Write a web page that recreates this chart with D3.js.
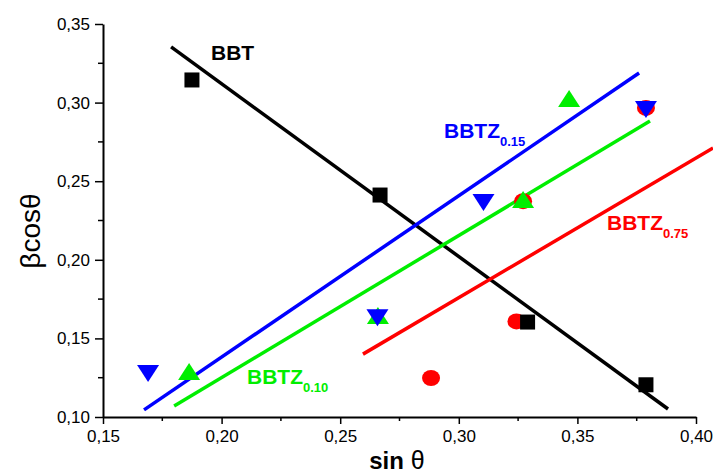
<!DOCTYPE html>
<html>
<head>
<meta charset="utf-8">
<script src="https://cdn.jsdelivr.net/npm/d3@7"></script>
<style>
body { margin: 0; background: #fff; }
text { font-family: "Liberation Sans", Arial, sans-serif; }
</style>
</head>
<body>
<div id="chart"></div>
<script>
// measured points (sin theta, beta cos theta)
var bbtX = [0.1875, 0.2668, 0.3290, 0.3789];
var bbtY = [0.3144, 0.2412, 0.1604, 0.1205];
var z15X = [0.1690, 0.2657, 0.3104, 0.3789];
var z15Y = [0.1280, 0.1635, 0.2368, 0.2960];
var z10X = [0.1863, 0.2659, 0.3271, 0.3465];
var z10Y = [0.1286, 0.1643, 0.2380, 0.3023];
var z75X = [0.2883, 0.3243, 0.3271, 0.3789];
var z75Y = [0.1248, 0.1608, 0.2373, 0.2966];

// fitted lines, start and end
var bbtFitX = [0.1787, 0.3882], bbtFitY = [0.3354, 0.1051];
var z15FitX = [0.1673, 0.3760], z15FitY = [0.1045, 0.3188];
var z10FitX = [0.1800, 0.3806], z10FitY = [0.1070, 0.2883];
var z75FitX = [0.2596, 0.4072], z75FitY = [0.1400, 0.2711];

var xTicks = [0.15, 0.20, 0.25, 0.30, 0.35, 0.40];
var yTicks = [0.10, 0.15, 0.20, 0.25, 0.30, 0.35];
var xMinor = [0.175, 0.225, 0.275, 0.325, 0.375];
var yMinor = [0.125, 0.175, 0.225, 0.275, 0.325];

var W = 713, H = 475;
var svg = d3.select("#chart").append("svg")
    .attr("width", W).attr("height", H);

var x = d3.scaleLinear().domain([0.15, 0.40]).range([103, 696]);
var y = d3.scaleLinear().domain([0.10, 0.35]).range([417, 24]);

var fmt = function(d){ return d3.format(".2f")(d).replace(".", ","); };

// axes
var xAxis = svg.append("g").attr("transform", "translate(0," + y(0.10) + ")")
    .call(d3.axisBottom(x).tickValues(xTicks).tickFormat(fmt).tickSize(7).tickPadding(6).tickSizeOuter(0));
xAxis.append("g").selectAll("line").data(xMinor).join("line")
    .attr("x1", d => x(d)).attr("x2", d => x(d)).attr("y1", 0).attr("y2", 4)
    .attr("stroke", "#000").attr("stroke-width", 1.5);

var yAxis = svg.append("g").attr("transform", "translate(" + x(0.15) + ",0)")
    .call(d3.axisLeft(y).tickValues(yTicks).tickFormat(fmt).tickSize(8).tickPadding(5).tickSizeOuter(0));
yAxis.append("g").selectAll("line").data(yMinor).join("line")
    .attr("y1", d => y(d)).attr("y2", d => y(d)).attr("x1", 0).attr("x2", -5)
    .attr("stroke", "#000").attr("stroke-width", 1.5);

svg.selectAll(".domain").attr("stroke", "#000").attr("stroke-width", 2);
svg.selectAll(".tick line").attr("stroke", "#000").attr("stroke-width", 1.5);
svg.selectAll(".tick text").attr("font-size", 17).attr("fill", "#000")
    .attr("font-family", "Liberation Sans, Arial, sans-serif");

// fit lines
var line = d3.line().x(d => x(d[0])).y(d => y(d[1]));
function fit(xs, ys, col){
    svg.append("path").datum(d3.zip(xs, ys))
        .attr("d", line).attr("fill", "none")
        .attr("stroke", col).attr("stroke-width", 3.5);
}
fit(bbtFitX, bbtFitY, "#000");
fit(z15FitX, z15FitY, "#0000ff");
fit(z10FitX, z10FitY, "#00ee00");
fit(z75FitX, z75FitY, "#ff0000");

// markers
function squares(xs, ys, col){
    svg.append("g").selectAll("rect").data(d3.zip(xs, ys)).join("rect")
        .attr("x", d => x(d[0]) - 7.5).attr("y", d => y(d[1]) - 7.5)
        .attr("width", 15).attr("height", 15).attr("fill", col);
}
function circles(xs, ys, col){
    svg.append("g").selectAll("ellipse").data(d3.zip(xs, ys)).join("ellipse")
        .attr("cx", d => x(d[0])).attr("cy", d => y(d[1]))
        .attr("rx", 9).attr("ry", 8).attr("fill", col);
}
function triangles(xs, ys, col, down){
    var s = down ? -1 : 1;
    svg.append("g").selectAll("path").data(d3.zip(xs, ys)).join("path")
        .attr("d", function(d){
            var cx = x(d[0]), cy = y(d[1]);
            return "M" + (cx - 11) + "," + (cy + s * 8) + "L" + (cx + 11) + "," + (cy + s * 8)
                + "L" + cx + "," + (cy - s * 9) + "Z";
        })
        .attr("fill", col);
}
circles(z75X, z75Y, "#ff0000");
squares(bbtX, bbtY, "#000");
triangles(z10X, z10Y, "#00ee00", false);
triangles(z15X, z15Y, "#0000ff", true);

// series labels
function label(px, py, main, sub, col){
    var t = svg.append("text").attr("x", px).attr("y", py)
        .attr("fill", col).attr("font-weight", "bold").attr("font-size", 21);
    t.append("tspan").text(main);
    if (sub) t.append("tspan").attr("font-size", 13).attr("dy", 8).text(sub);
}
label(211, 60, "BBT", null, "#000");
label(444, 138, "BBTZ", "0.15", "#0000ff");
label(607, 230, "BBTZ", "0.75", "#ff0000");
label(247, 384, "BBTZ", "0.10", "#00ee00");

// axis titles
var xt = svg.append("text").attr("x", 397).attr("y", 469)
    .attr("text-anchor", "middle").attr("font-size", 24).attr("fill", "#000");
xt.append("tspan").attr("font-weight", "bold").text("sin");
xt.append("tspan").attr("font-size", 25).text(" θ");

svg.append("text")
    .attr("transform", "translate(40,231) rotate(-90)")
    .attr("text-anchor", "middle").attr("font-size", 28).attr("fill", "#000")
    .text("βcosθ");
</script>
</body>
</html>
